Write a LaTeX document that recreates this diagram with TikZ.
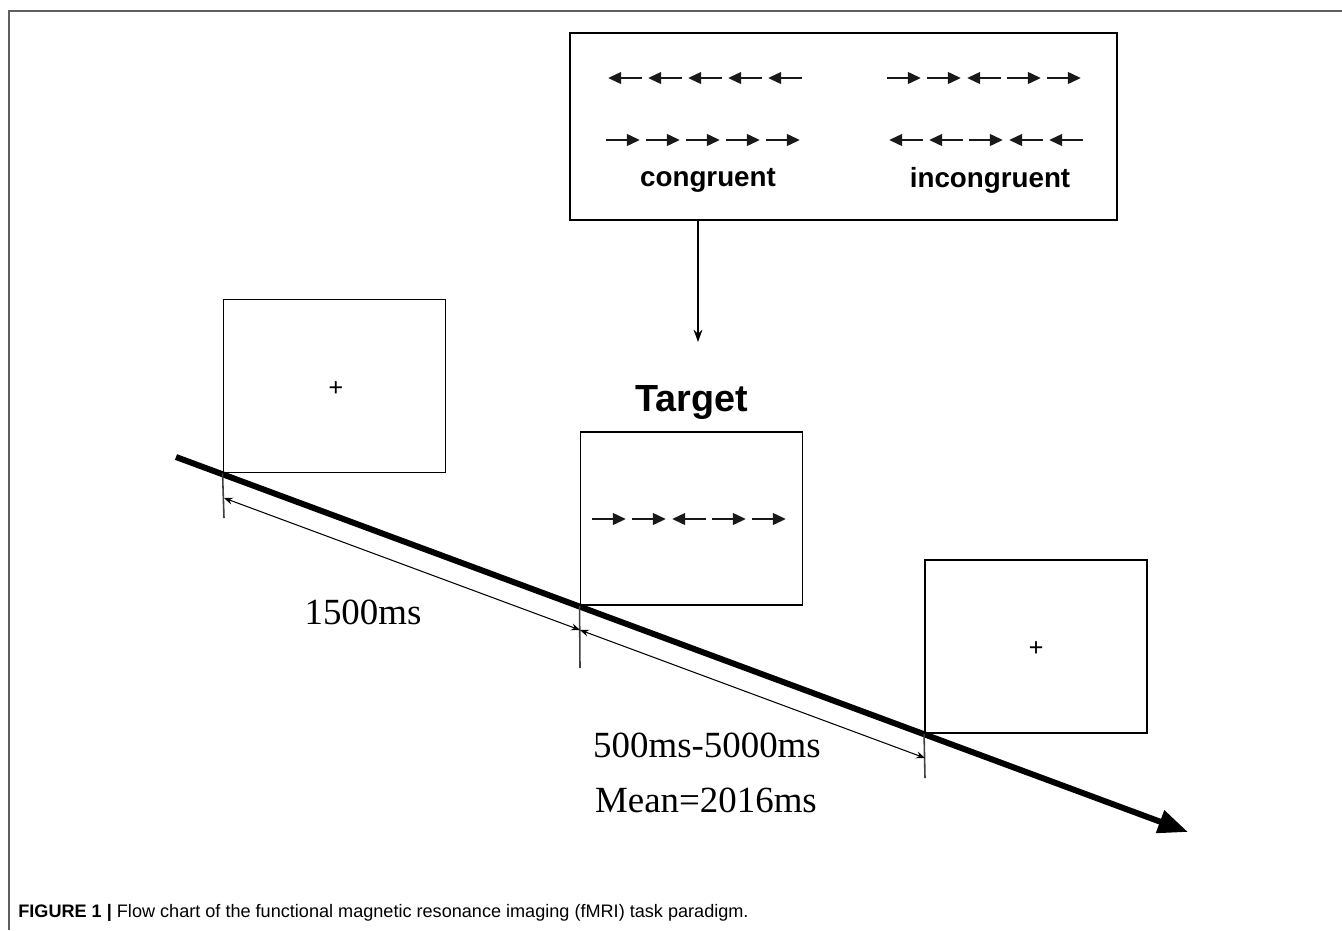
\documentclass[tikz,border=0pt]{standalone}
\usepackage{fontspec}
\setmainfont{Liberation Serif}
\setsansfont{Liberation Sans}
\usetikzlibrary{arrows.meta, positioning}
\definecolor{FrameGray}{RGB}{95,95,95}

% one row of flanker arrows: #1 left x, #2 y, #3 directions (1 = right, -1 = left)
\newcommand{\flankrow}[3]{%
  \foreach \d [count=\i from 0] in {#3} {
    \draw[flank] ({#1+\i*40+17-\d*17}, #2) -- ({#1+\i*40+17+\d*17}, #2);
  }}

\begin{document}
\begin{tikzpicture}[
  x=0.02cm, y=-0.02cm,
  screen/.style={draw, line width=1.1pt, minimum width=4.44cm, minimum height=3.46cm, inner sep=0pt},
  flank/.style={line width=1.6pt, draw=black!90, -{Triangle[length=7.5pt, width=6.5pt]}},
  lbl/.style={font=\sffamily\bfseries\fontsize{15.8}{18}\selectfont},
  dur/.style={font=\fontsize{21}{24}\selectfont},
  fix/.style={font=\bfseries\fontsize{15}{16}\selectfont, inner sep=0pt},
  tick/.style={draw=black!75, line width=0.9pt},
  span/.style={line width=0.6pt, {Stealth[length=5pt, width=4pt]}-{Stealth[length=5pt, width=4pt]}},
]
\useasboundingbox (0,0) rectangle (1342,930);
%% Page frame
\draw[FrameGray, line width=1.2pt] (9,930) -- (9,11) -- (1342,11);
%% Stimulus types
\node[screen, minimum width=10.94cm, minimum height=3.74cm] (types) at (843.5,126.5) {};
\flankrow{608}{78}{-1,-1,-1,-1,-1}
\flankrow{606}{140}{1,1,1,1,1}
\flankrow{887}{78}{1,1,-1,1,1}
\flankrow{889}{140}{-1,-1,1,-1,-1}
\node[lbl] (cong) at (708,180) {congruent};
\node[lbl] (incong) at (990,180) {incongruent};
%% Screens along the time line
\node[screen] (fix1) at (334.5,386) {};
\node[fix] (plus1) at (336,389) {+};
\node[screen] (tgt) at (691.5,518.5) {};
\flankrow{592}{519}{1,1,-1,1,1}
\node[font=\sffamily\bfseries\fontsize{21.5}{24}\selectfont, above=0.1cm of tgt] (tgtlbl) {Target};
\node[screen] (fix2) at (1036,646.5) {};
\node[fix] (plus2) at (1036,649) {+};
%% Arrow down to the target
\coordinate (drop) at (698,342);
\draw[line width=0.9pt, -{Stealth[length=7pt, width=5pt]}] (types.south -| drop) -- (drop);
%% Time line
\coordinate (t0) at (176,457);
\coordinate (t1) at (1188,832);
\draw[line width=3.4pt, -{Triangle[length=17pt, width=13pt]}] (t0) -- (t1);
%% Onset ticks and durations
\coordinate (k1) at (224,518);
\coordinate (k2) at (580,668);
\coordinate (k3) at (925,778);
\draw[tick] (fix1.south west) -- (k1);
\draw[tick] (tgt.south west) -- (k2);
\draw[tick] (fix2.south west) -- (k3);
\coordinate (d1) at (224,498);
\coordinate (d2) at (580,630);
\coordinate (d3) at (925,758);
\draw[span] (d1) -- (d2);
\draw[span] (d2) -- (d3);
\node[dur] (iti) at (363,612) {1500ms};
\node[dur] (isi) at (707,745) {500ms-5000ms};
\node[dur] (mean) at (706,800) {Mean=2016ms};
%% Caption
\node[anchor=west, font=\sffamily\fontsize{10.3}{12}\selectfont, inner sep=0pt] (cap) at (18,913)
  {\textbf{FIGURE 1 |} Flow chart of the functional magnetic resonance imaging (fMRI) task paradigm.};
\end{tikzpicture}
\end{document}
